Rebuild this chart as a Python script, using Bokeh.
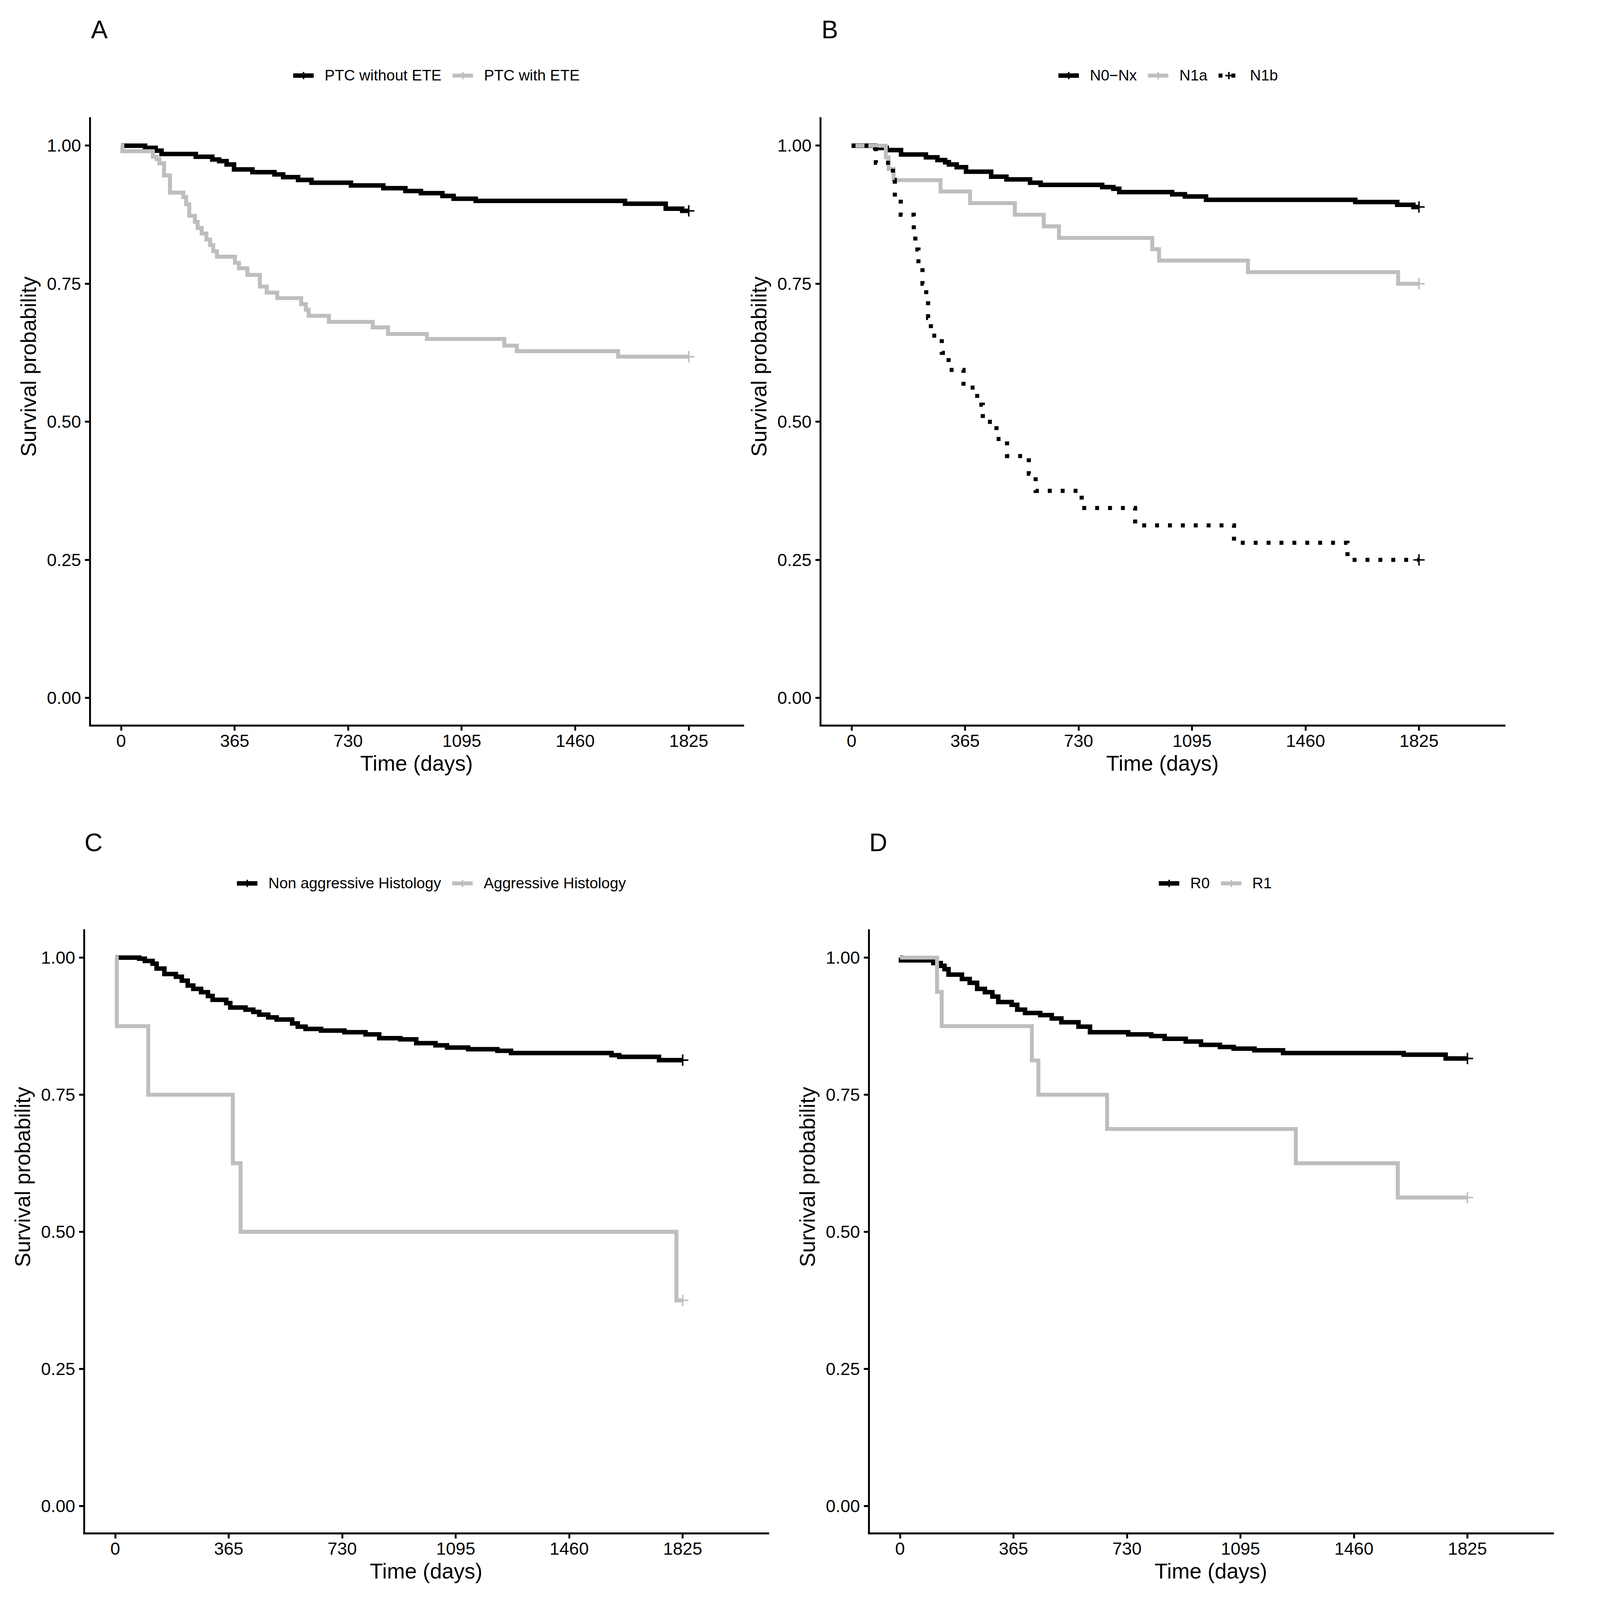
from bokeh.plotting import figure
from bokeh.models import Range1d, FixedTicker, Legend, LegendItem, Label, NumeralTickFormatter
from bokeh.layouts import row, column
from bokeh.embed import file_html
from bokeh.resources import INLINE

FONT = "Liberation Sans"
BLACK = "#000000"
GREY = "#BEBEBE"

# the page is photographed about 4.2 % larger than its CSS size: work in image pixels, then scale
S = 1 / 1.042


def px(v):
    return int(round(v * S))


x_ticks = [0, 365, 730, 1095, 1460, 1825]
y_ticks = [0.0, 0.25, 0.5, 0.75, 1.0]
x_title = "Time (days)"
y_title = "Survival probability"

# ---------------- Panel A : ETE ----------------
a_names = ["PTC without ETE", "PTC with ETE"]
a_no_ete_t = [0, 77, 111, 130, 240, 293, 315, 339, 363, 422, 493, 521, 569, 612, 739, 843, 914,
              964, 1033, 1069, 1140, 1620, 1751, 1804, 1825]
a_no_ete_s = [1.0, 0.996, 0.991, 0.985, 0.980, 0.975, 0.972, 0.966, 0.957, 0.952, 0.948, 0.943,
              0.938, 0.933, 0.928, 0.923, 0.918, 0.914, 0.909, 0.904, 0.900, 0.895, 0.886, 0.882, 0.882]
a_ete_t = [0, 4, 102, 114, 123, 138, 157, 200, 209, 219, 237, 246, 259, 274, 286, 296, 308, 366,
           379, 406, 446, 468, 502, 579, 594, 603, 668, 809, 858, 983, 1232, 1272, 1598, 1825]
a_ete_s = [1.0, 0.990, 0.980, 0.976, 0.968, 0.946, 0.915, 0.907, 0.894, 0.873, 0.862, 0.851, 0.841,
           0.830, 0.820, 0.809, 0.799, 0.788, 0.778, 0.766, 0.745, 0.734, 0.724, 0.713, 0.703, 0.692,
           0.681, 0.671, 0.659, 0.650, 0.638, 0.628, 0.618, 0.618]

# ---------------- Panel B : N status ----------------
b_names = ["N0\u2212Nx", "N1a", "N1b"]
b_n0_t = [0, 76, 113, 159, 239, 276, 301, 313, 338, 368, 449, 498, 574, 608, 806, 842, 861, 1031,
          1072, 1140, 1620, 1755, 1807, 1825]
b_n0_s = [1.0, 0.996, 0.992, 0.984, 0.979, 0.974, 0.970, 0.966, 0.961, 0.953, 0.944, 0.939, 0.933,
          0.929, 0.925, 0.922, 0.916, 0.912, 0.908, 0.902, 0.898, 0.893, 0.889, 0.889]
b_n1a_t = [0, 110, 119, 135, 286, 381, 525, 618, 667, 967, 989, 1275, 1758, 1825]
b_n1a_s = [1.0, 0.979, 0.958, 0.9375, 0.917, 0.896, 0.875, 0.854, 0.833, 0.8125, 0.792, 0.771, 0.75, 0.75]
b_n1b_t = [0, 78, 133, 139, 158, 200, 205, 215, 228, 240, 246, 255, 290, 312, 360, 404, 422, 466,
           500, 570, 592, 740, 912, 1230, 1595, 1825]
b_n1b_s = [1.0, 0.969, 0.938, 0.906, 0.875, 0.844, 0.812, 0.781, 0.75, 0.719, 0.688, 0.656, 0.625,
           0.594, 0.562, 0.531, 0.5, 0.469, 0.438, 0.406, 0.375, 0.344, 0.3125, 0.281, 0.25, 0.25]

# ---------------- Panel C : histology ----------------
c_names = ["Non aggressive Histology", "Aggressive Histology"]
c_non_t = [0, 77, 95, 120, 133, 158, 195, 214, 233, 251, 276, 298, 313, 357, 370, 419, 444, 463,
           492, 519, 569, 587, 612, 662, 737, 805, 849, 917, 968, 1030, 1067, 1135, 1229, 1273,
           1596, 1621, 1749, 1825]
c_non_s = [1.0, 0.998, 0.994, 0.989, 0.980, 0.970, 0.965, 0.958, 0.949, 0.943, 0.937, 0.930, 0.923,
           0.917, 0.909, 0.905, 0.901, 0.896, 0.891, 0.887, 0.880, 0.874, 0.870, 0.867, 0.864, 0.860,
           0.853, 0.851, 0.844, 0.840, 0.836, 0.833, 0.830, 0.826, 0.822, 0.819, 0.813, 0.813]
c_agg_t = [0, 5, 106, 378, 403, 1805, 1825]
c_agg_s = [1.0, 0.875, 0.75, 0.625, 0.5, 0.375, 0.375]

# ---------------- Panel D : resection ----------------
d_names = ["R0", "R1"]
d_r0_t = [0, 3, 107, 131, 143, 156, 199, 224, 248, 273, 297, 316, 359, 377, 402, 451, 488, 519,
          574, 611, 734, 808, 851, 919, 968, 1029, 1073, 1140, 1232, 1620, 1755, 1825]
d_r0_s = [1.0, 0.995, 0.990, 0.985, 0.979, 0.969, 0.961, 0.954, 0.943, 0.937, 0.929, 0.919, 0.914,
          0.905, 0.899, 0.895, 0.889, 0.882, 0.874, 0.864, 0.860, 0.857, 0.852, 0.847, 0.841, 0.837,
          0.834, 0.831, 0.826, 0.823, 0.816, 0.816]
d_r1_t = [0, 119, 134, 424, 445, 666, 1273, 1601, 1825]
d_r1_s = [1.0, 0.9375, 0.875, 0.8125, 0.75, 0.6875, 0.625, 0.5625, 0.5625]


def make_panel(letter, curves, legend_x, fig_w, fig_h, frame_l, frame_t, frame_w, frame_h, x_end):
    # all geometry arguments in image pixels
    W, H = px(fig_w), px(fig_h)
    L, T = px(frame_l), px(frame_t)
    FW, FH = px(frame_w), px(frame_h)
    R = W - L - FW
    B = H - T - FH
    p = figure(width=W, height=H,
               x_range=Range1d(-100, x_end), y_range=Range1d(-0.05, 1.25),
               output_backend="svg", toolbar_location=None, title=None,
               min_border_left=L, min_border_right=R,
               min_border_top=T, min_border_bottom=B,
               background_fill_color="white", border_fill_color="white")
    p.outline_line_color = None
    p.xgrid.visible = False
    p.ygrid.visible = False
    p.xaxis.ticker = FixedTicker(ticks=x_ticks)
    p.yaxis.ticker = FixedTicker(ticks=y_ticks)
    p.yaxis.formatter = NumeralTickFormatter(format="0.00")
    p.xaxis.axis_label = x_title
    p.yaxis.axis_label = y_title
    p.yaxis.bounds = (-0.05, 1.05)
    p.xaxis.bounds = (-100, x_end)
    for ax in (p.xaxis[0], p.yaxis[0]):
        ax.axis_line_width = 5 * S
        ax.axis_line_color = BLACK
        ax.axis_line_cap = "square"
        ax.major_tick_line_width = 5 * S
        ax.major_tick_line_color = BLACK
        ax.major_tick_out = px(14)
        ax.major_tick_in = 0
        ax.minor_tick_out = 0
        ax.minor_tick_in = 0
        ax.minor_tick_line_color = None
        ax.major_label_text_font = FONT
        ax.major_label_text_font_size = "45px"
        ax.major_label_text_color = BLACK
        ax.axis_label_text_font = FONT
        ax.axis_label_text_font_size = "55px"
        ax.axis_label_text_font_style = "normal"
        ax.axis_label_text_color = BLACK
    p.yaxis[0].major_label_standoff = 10
    p.yaxis[0].axis_label_standoff = 13
    p.xaxis[0].major_label_standoff = 10
    p.xaxis[0].axis_label_standoff = 8

    items = []
    for name, ts, ss, color, dash, lw in curves:
        r = p.step(ts, ss, mode="after", line_width=lw * S, line_color=color,
                   line_dash=dash, line_join="miter", line_cap="butt")
        c = p.scatter([ts[-1]], [ss[-1]], marker="cross", size=29, line_width=4 * S,
                      line_color=color)
        items.append(LegendItem(label=name, renderers=[r, c]))

    leg_h = px(48)
    leg = Legend(items=items, location=(px(legend_x), px(1734) - leg_h // 2),
                 orientation="horizontal",
                 glyph_width=px(55), glyph_height=leg_h, label_standoff=px(29), spacing=px(29),
                 padding=0, margin=0, border_line_alpha=0, background_fill_alpha=0,
                 label_text_font=FONT, label_text_font_size="39px",
                 label_text_color=BLACK, label_height=px(40))
    p.add_layout(leg)

    p.add_layout(Label(x=-70, y=1.21, text=letter, text_font=FONT, text_font_size="64px",
                       text_color=BLACK, text_align="center", text_baseline="middle"))
    return p


# image-pixel layout: row 1 spans 2135 px, row 2 spans 2116 px
pA = make_panel("A", [(a_names[0], a_no_ete_t, a_no_ete_s, BLACK, "solid", 12),
                      (a_names[1], a_ete_t, a_ete_s, GREY, "solid", 10.5)],
                542, 1988, 2135, 240, 20, 1742, 1915, 2000)
pB = make_panel("B", [(b_names[0], b_n0_t, b_n0_s, BLACK, "solid", 12),
                      (b_names[1], b_n1a_t, b_n1a_s, GREY, "solid", 10.5),
                      (b_names[2], b_n1b_t, b_n1b_s, BLACK, "10 23", 11)],
                635, 2182, 2135, 200, 20, 1825, 1915, 2100)
pC = make_panel("C", [(c_names[0], c_non_t, c_non_s, BLACK, "solid", 12),
                      (c_names[1], c_agg_t, c_agg_s, GREY, "solid", 10.5)],
                407, 2093, 2116, 224, 40, 1825, 1915, 2100)
pD = make_panel("D", [(d_names[0], d_r0_t, d_r0_s, BLACK, "solid", 12),
                      (d_names[1], d_r1_t, d_r1_s, GREY, "solid", 10.5)],
                773, 2077, 2116, 224, 53, 1825, 1915, 2100)

layout = column(row(pA, pB), row(pC, pD))
open("out.html", "w").write(file_html(layout, INLINE))
